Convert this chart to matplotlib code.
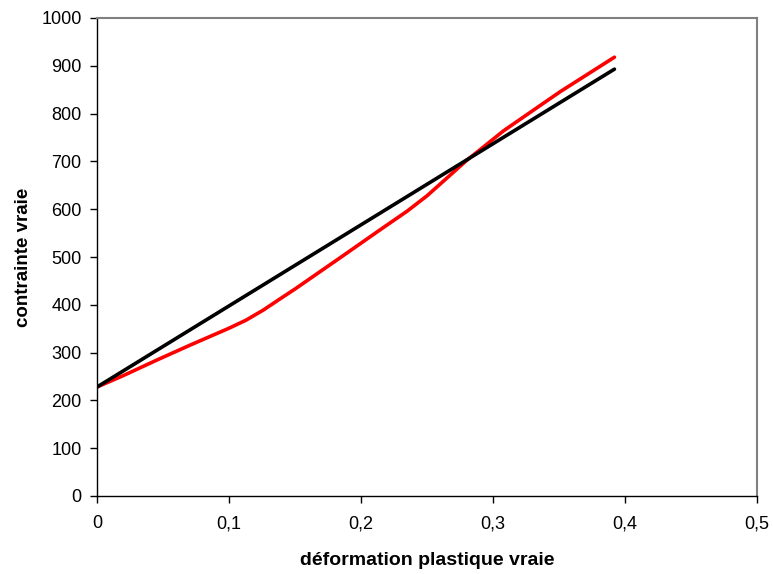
import matplotlib
matplotlib.use("Agg")
import matplotlib.pyplot as plt
from matplotlib.ticker import FuncFormatter, MultipleLocator

plt.rcParams['font.family'] = ['Liberation Sans', 'DejaVu Sans']

# data
strain_red = [0, 0.02, 0.045, 0.07, 0.10, 0.113, 0.126, 0.139, 0.15, 0.185, 0.214, 0.235, 0.25, 0.265, 0.28, 0.29, 0.308, 0.33, 0.351, 0.392]
stress_red = [228, 252, 284, 315, 351, 368, 389, 413, 433, 500, 556, 596, 628, 665, 702, 724, 764, 806, 846, 918]
strain_black = [0, 0.392]
stress_black = [228, 893]

x_label = "déformation plastique vraie"
y_label = "contrainte vraie"

fig = plt.figure(figsize=(7.73, 5.74), dpi=100)
ax = fig.add_axes([97/773, 1-496/574, (757-97)/773, (496-18)/574])

ax.plot(strain_red, stress_red, color='#ff0000', lw=2.6, solid_capstyle='round', solid_joinstyle='round')
ax.plot(strain_black, stress_black, color='black', lw=2.6, solid_capstyle='round')

ax.set_xlim(0, 0.5)
ax.set_ylim(0, 1000)
ax.xaxis.set_major_locator(MultipleLocator(0.1))
ax.yaxis.set_major_locator(MultipleLocator(100))
ax.xaxis.set_major_formatter(FuncFormatter(lambda v, p: ('%g' % round(v, 2)).replace('.', ',')))

for s in ['top', 'right']:
    ax.spines[s].set_color('#808080')
    ax.spines[s].set_linewidth(1.5)
for s in ['left', 'bottom']:
    ax.spines[s].set_color('black')
    ax.spines[s].set_linewidth(1.0)

ax.tick_params(direction='out', length=5, width=1, labelsize=13, pad=6)
ax.tick_params(axis='x', pad=9)
ax.set_xlabel(x_label, fontsize=14, fontweight='bold', labelpad=14)
ax.set_ylabel(y_label, fontsize=13.5, fontweight='bold', labelpad=7)

fig.savefig('out.png', dpi=100)
